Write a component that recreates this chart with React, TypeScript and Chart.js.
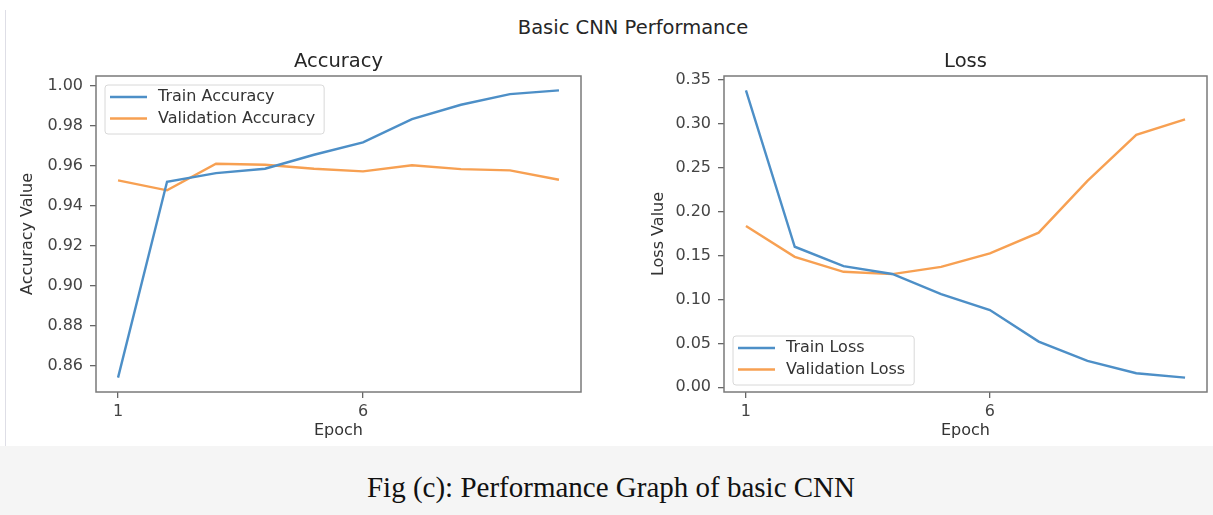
import React, { useEffect, useRef } from 'react';
import { Chart, registerables } from 'chart.js';

Chart.register(...registerables);

// ---------- data ----------
const epochs = [1, 2, 3, 4, 5, 6, 7, 8, 9, 10];
const trainAccuracy = [0.854, 0.952, 0.9563, 0.9585, 0.9655, 0.9717, 0.9833, 0.9905, 0.9958, 0.9977];
const valAccuracy = [0.9527, 0.9477, 0.961, 0.9605, 0.9585, 0.9572, 0.9602, 0.9583, 0.9577, 0.953];
const trainLoss = [0.338, 0.16, 0.138, 0.129, 0.106, 0.088, 0.052, 0.03, 0.016, 0.011];
const valLoss = [0.1835, 0.1485, 0.1315, 0.1288, 0.137, 0.1524, 0.176, 0.235, 0.2873, 0.305];
const epochTicks = [1, 6];
const accuracyTicks = [0.86, 0.88, 0.9, 0.92, 0.94, 0.96, 0.98, 1.0];
const lossTicks = [0, 0.05, 0.1, 0.15, 0.2, 0.25, 0.3, 0.35];

const BLUE = '#4d8fc7';
const ORANGE = '#f7a052';
const FONT = '"DejaVu Sans", "Noto Sans", sans-serif';

function autoRange(values: number[], margin = 0.05): [number, number] {
  const lo = Math.min(...values);
  const hi = Math.max(...values);
  const pad = (hi - lo) * margin;
  return [lo - pad, hi + pad];
}

const panelTitle = {
  id: 'panelTitle',
  afterDraw(chart: any, _args: any, opts: any) {
    const { ctx, chartArea: a } = chart;
    ctx.save();
    ctx.font = `19.5px ${FONT}`;
    ctx.fillStyle = '#262626';
    ctx.textAlign = 'center';
    ctx.textBaseline = 'middle';
    ctx.fillText(opts.text, (a.left + a.right) / 2, a.top - 14);
    ctx.restore();
  },
};

const frame = {
  id: 'frame',
  afterDatasetsDraw(chart: any) {
    const { ctx, chartArea: a } = chart;
    ctx.save();
    ctx.strokeStyle = '#7a7a7a';
    ctx.lineWidth = 1.5;
    ctx.strokeRect(a.left, a.top, a.right - a.left, a.bottom - a.top);
    ctx.restore();
  },
};

const insideLegend = {
  id: 'insideLegend',
  afterDraw(chart: any, _args: any, opts: any) {
    const { ctx, chartArea: a } = chart;
    ctx.save();
    ctx.font = `16px ${FONT}`;
    const items = chart.data.datasets.map((d: any) => ({ label: d.label, color: d.borderColor }));
    const textW = Math.max(...items.map((i: any) => ctx.measureText(i.label).width));
    const padX = 5, handleLen = 37, gap = 11, rowH = 21.5;
    const w = padX + handleLen + gap + textW + 9;
    const h = 49;
    const x = a.left + 9;
    const y = opts.position === 'lower left' ? a.bottom - 7 - h : a.top + 9;
    ctx.beginPath();
    if ((ctx as any).roundRect) (ctx as any).roundRect(x, y, w, h, 3);
    else ctx.rect(x, y, w, h);
    ctx.fillStyle = 'rgba(255,255,255,0.85)';
    ctx.fill();
    ctx.strokeStyle = '#d8d8d8';
    ctx.lineWidth = 1;
    ctx.stroke();
    items.forEach((it: any, i: number) => {
      const cy = y + 12 + i * rowH;
      ctx.beginPath();
      ctx.strokeStyle = it.color;
      ctx.lineWidth = 2.4;
      ctx.moveTo(x + padX, cy);
      ctx.lineTo(x + padX + handleLen, cy);
      ctx.stroke();
      ctx.fillStyle = '#333';
      ctx.textAlign = 'left';
      ctx.textBaseline = 'middle';
      ctx.fillText(it.label, x + padX + handleLen + gap, cy);
    });
    ctx.restore();
  },
};

interface PanelSpec {
  title: string;
  yLabel: string;
  series: { label: string; data: number[]; color: string }[];
  yTicks: number[];
  legendPos: string;
  padLeft: number;
  yWidth: number;
  padRight: number;
}

function makeConfig(p: PanelSpec): any {
  const xr = autoRange(epochs);
  const yr = autoRange(p.series.flatMap((s) => s.data));
  const tickFont = { family: FONT, size: 16 };
  const grid = {
    display: true,
    drawOnChartArea: false,
    drawTicks: true,
    tickLength: 6,
    color: '#666',
    lineWidth: 1.3,
  };
  return {
    type: 'line',
    data: {
      datasets: p.series.map((s) => ({
        label: s.label,
        data: epochs.map((e, i) => ({ x: e, y: s.data[i] })),
        borderColor: s.color,
        backgroundColor: s.color,
        borderWidth: 2.4,
        pointRadius: 0,
        tension: 0,
        fill: false,
      })),
    },
    options: {
      animation: false,
      responsive: false,
      maintainAspectRatio: false,
      layout: { padding: { left: p.padLeft, right: p.padRight, top: 76, bottom: 6 } },
      plugins: {
        legend: { display: false },
        tooltip: { enabled: false },
        panelTitle: { text: p.title },
        insideLegend: { position: p.legendPos },
      },
      scales: {
        x: {
          type: 'linear',
          min: xr[0],
          max: xr[1],
          afterBuildTicks: (s: any) => {
            s.ticks = epochTicks.map((v) => ({ value: v }));
          },
          afterFit: (s: any) => {
            s.height = 48;
          },
          grid,
          border: { display: false },
          ticks: {
            padding: 4,
            color: '#444',
            font: tickFont,
            maxRotation: 0,
            autoSkip: false,
            callback: (v: any) => String(v),
          },
          title: { display: true, text: 'Epoch', color: '#333', font: tickFont, padding: 0 },
        },
        y: {
          type: 'linear',
          min: yr[0],
          max: yr[1],
          afterBuildTicks: (s: any) => {
            s.ticks = p.yTicks.map((v) => ({ value: v }));
          },
          afterFit: (s: any) => {
            s.width = p.yWidth;
          },
          grid,
          border: { display: false },
          ticks: {
            padding: 7,
            color: '#444',
            font: tickFont,
            autoSkip: false,
            callback: (v: any) => Number(v).toFixed(2),
          },
          title: { display: true, text: p.yLabel, color: '#333', font: tickFont, padding: 0 },
        },
      },
    },
    plugins: [frame, panelTitle, insideLegend],
  };
}

function Panel(props: { spec: PanelSpec; left: number; width: number; height: number }) {
  const ref = useRef<HTMLCanvasElement | null>(null);
  useEffect(() => {
    if (!ref.current) return;
    const chart = new Chart(ref.current, makeConfig(props.spec));
    return () => chart.destroy();
  }, []);
  return (
    <canvas
      ref={ref}
      width={props.width}
      height={props.height}
      style={{ position: 'absolute', left: props.left, top: 0, width: props.width, height: props.height }}
    />
  );
}

const accuracySpec: PanelSpec = {
  title: 'Accuracy',
  yLabel: 'Accuracy Value',
  series: [
    { label: 'Train Accuracy', data: trainAccuracy, color: BLUE },
    { label: 'Validation Accuracy', data: valAccuracy, color: ORANGE },
  ],
  yTicks: accuracyTicks,
  legendPos: 'upper left',
  padLeft: 18,
  yWidth: 78,
  padRight: 59,
};

const lossSpec: PanelSpec = {
  title: 'Loss',
  yLabel: 'Loss Value',
  series: [
    { label: 'Train Loss', data: trainLoss, color: BLUE },
    { label: 'Validation Loss', data: valLoss, color: ORANGE },
  ],
  yTicks: lossTicks,
  legendPos: 'lower left',
  padLeft: 9,
  yWidth: 75,
  padRight: 6,
};

export default function App() {
  return (
    <div
      style={{
        position: 'fixed',
        left: 0,
        top: 0,
        width: 1213,
        height: 515,
        background: '#ffffff',
        overflow: 'hidden',
      }}
    >
      <div style={{ position: 'absolute', left: 5, top: 10, width: 1, height: 436, background: '#dedee6' }} />
      <div
        style={{
          position: 'absolute',
          left: 0,
          top: 446,
          width: 1213,
          height: 69,
          background: '#f5f5f5',
        }}
      />
      <div
        style={{
          position: 'absolute',
          left: 433,
          top: 16,
          width: 400,
          textAlign: 'center',
          font: `19.5px ${FONT}`,
          lineHeight: '24px',
          color: '#262626',
        }}
      >
        Basic CNN Performance
      </div>
      <Panel spec={accuracySpec} left={0} width={640} height={446} />
      <Panel spec={lossSpec} left={640} width={573} height={446} />
      <div
        style={{
          position: 'absolute',
          left: 311,
          top: 471,
          width: 600,
          textAlign: 'center',
          fontFamily: '"Liberation Serif", "Times New Roman", serif',
          fontSize: 29,
          lineHeight: '33px',
          color: '#111',
        }}
      >
        Fig (c): Performance Graph of basic CNN
      </div>
    </div>
  );
}
